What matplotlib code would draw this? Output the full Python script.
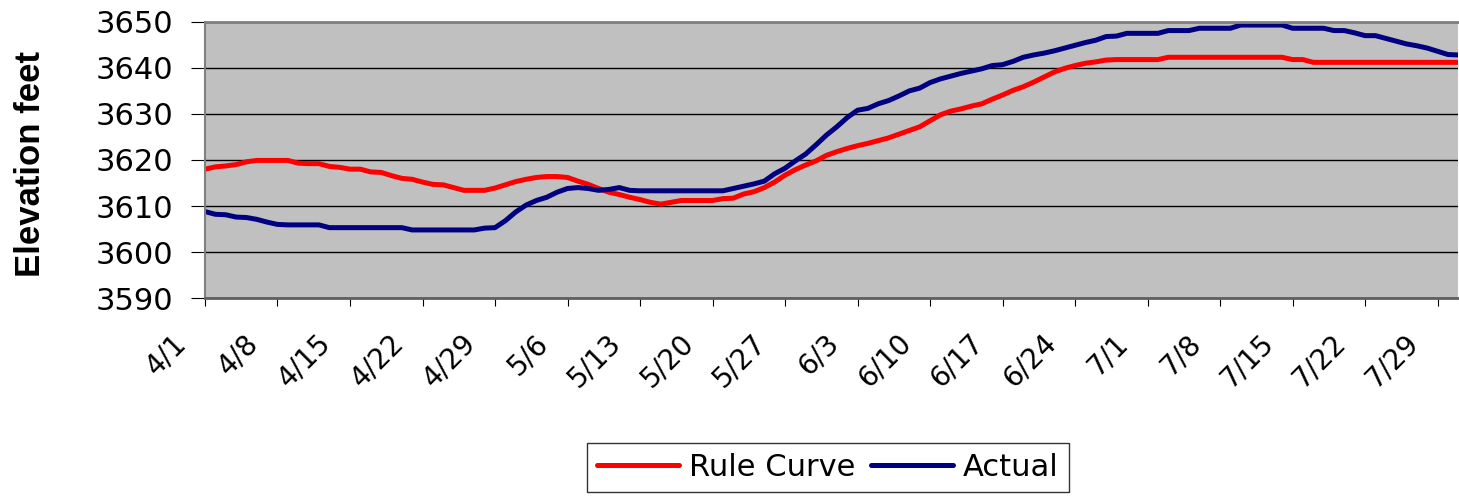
import matplotlib
matplotlib.use("Agg")
import matplotlib.pyplot as plt
import matplotlib.transforms as mtransforms
import numpy as np

plt.rcParams['font.family'] = ['DejaVu Sans']

# daily elevations, 4/1 .. 7/31
rule_curve = [
    3618.0, 3618.5, 3618.7, 3619.0, 3619.6, 3619.9, 3619.9, 3619.9, 3619.9, 3619.3,
    3619.2, 3619.2, 3618.6, 3618.4, 3618.0, 3618.0, 3617.4, 3617.3, 3616.6, 3616.0,
    3615.8, 3615.2, 3614.7, 3614.6, 3614.0, 3613.4, 3613.4, 3613.4, 3613.9, 3614.6,
    3615.3, 3615.8, 3616.2, 3616.4, 3616.4, 3616.2, 3615.4, 3614.7, 3613.8, 3613.0,
    3612.5, 3611.9, 3611.4, 3610.8, 3610.4, 3610.8, 3611.2, 3611.2, 3611.2, 3611.2,
    3611.6, 3611.7, 3612.6, 3613.1, 3614.0, 3615.2, 3616.7, 3617.9, 3618.9, 3619.8,
    3621.0, 3621.8, 3622.5, 3623.1, 3623.6, 3624.2, 3624.8, 3625.6, 3626.4, 3627.2,
    3628.5, 3629.8, 3630.6, 3631.1, 3631.7, 3632.2, 3633.2, 3634.1, 3635.1, 3635.9,
    3636.9, 3638.0, 3639.1, 3639.9, 3640.5, 3641.0, 3641.3, 3641.7, 3641.8, 3641.8,
    3641.8, 3641.8, 3641.8, 3642.3, 3642.3, 3642.3, 3642.3, 3642.3, 3642.3, 3642.3,
    3642.3, 3642.3, 3642.3, 3642.3, 3642.3, 3641.8, 3641.8, 3641.2, 3641.2, 3641.2,
    3641.2, 3641.2, 3641.2, 3641.2, 3641.2, 3641.2, 3641.2, 3641.2, 3641.2, 3641.2,
    3641.2, 3641.2,
]

actual = [
    3608.8, 3608.2, 3608.1, 3607.6, 3607.5, 3607.1, 3606.5, 3606.0, 3605.9, 3605.9,
    3605.9, 3605.9, 3605.3, 3605.3, 3605.3, 3605.3, 3605.3, 3605.3, 3605.3, 3605.3,
    3604.8, 3604.8, 3604.8, 3604.8, 3604.8, 3604.8, 3604.8, 3605.2, 3605.3, 3606.8,
    3608.7, 3610.2, 3611.2, 3611.9, 3613.0, 3613.8, 3614.0, 3613.8, 3613.4, 3613.6,
    3614.0, 3613.4, 3613.3, 3613.3, 3613.3, 3613.3, 3613.3, 3613.3, 3613.3, 3613.3,
    3613.3, 3613.8, 3614.3, 3614.8, 3615.4, 3617.0, 3618.2, 3619.8, 3621.3, 3623.3,
    3625.4, 3627.2, 3629.2, 3630.8, 3631.2, 3632.2, 3632.9, 3633.9, 3635.0, 3635.6,
    3636.8, 3637.6, 3638.2, 3638.8, 3639.3, 3639.8, 3640.5, 3640.7, 3641.4, 3642.3,
    3642.8, 3643.2, 3643.7, 3644.3, 3644.9, 3645.5, 3646.0, 3646.8, 3646.9, 3647.5,
    3647.5, 3647.5, 3647.5, 3648.1, 3648.1, 3648.1, 3648.6, 3648.6, 3648.6, 3648.6,
    3649.3, 3649.3, 3649.3, 3649.3, 3649.3, 3648.6, 3648.6, 3648.6, 3648.6, 3648.1,
    3648.1, 3647.6, 3647.0, 3647.0, 3646.4, 3645.8, 3645.2, 3644.8, 3644.3, 3643.6,
    3642.9, 3642.8,
]

tick_labels = ["4/1", "4/8", "4/15", "4/22", "4/29", "5/6", "5/13", "5/20", "5/27",
               "6/3", "6/10", "6/17", "6/24", "7/1", "7/8", "7/15", "7/22", "7/29"]

days = np.arange(len(actual))

fig = plt.figure(figsize=(14.59, 4.96), dpi=100)
ax = fig.add_axes([0.1405, 0.399, 0.859, 0.557])
ax.set_facecolor('#C0C0C0')

ax.plot(days, rule_curve, color='#FF0000', lw=3.6, label='Rule Curve', solid_capstyle='round')
ax.plot(days, actual, color='#000080', lw=3.6, label='Actual', solid_capstyle='round')

ax.set_xlim(0, len(actual) - 1)
ax.set_ylim(3590, 3650)
ax.set_yticks(np.arange(3590, 3651, 10))
ax.yaxis.grid(True, color='black', lw=1)
ax.set_axisbelow(True)

ax.set_xticks(days[::7])
ax.set_xticklabels(tick_labels, rotation=45, ha='right', va='top', rotation_mode='anchor')

ax.tick_params(axis='y', labelsize=22, length=10, pad=13, direction='out')
ax.tick_params(axis='x', labelsize=20, length=6, pad=16, direction='out')

# push the date labels left of their ticks, like the excel chart
shift = mtransforms.ScaledTranslation(-24 / 72, 0, fig.dpi_scale_trans)
for lbl in ax.get_xticklabels():
    lbl.set_transform(lbl.get_transform() + shift)

ax.spines['right'].set_visible(False)
ax.spines['top'].set_color('#808080')
ax.spines['top'].set_linewidth(2)
ax.spines['left'].set_color('#808080')
ax.spines['left'].set_linewidth(1.5)
ax.spines['bottom'].set_color('#606060')
ax.spines['bottom'].set_linewidth(2)

fig.text(0.021, 0.670, 'Elevation feet', rotation=90, ha='center', va='center',
         fontsize=25, fontweight='bold', family=['Liberation Sans', 'DejaVu Sans'])

leg = fig.legend(loc='upper left', bbox_to_anchor=(0.4023, 0.1069), ncol=2, fontsize=22,
                 frameon=True, fancybox=False, edgecolor='black', handlelength=2.68,
                 handletextpad=0.33, columnspacing=0.52, borderpad=0.33,
                 borderaxespad=0)
leg.get_frame().set_linewidth(1)

fig.savefig('out.png', dpi=100)
